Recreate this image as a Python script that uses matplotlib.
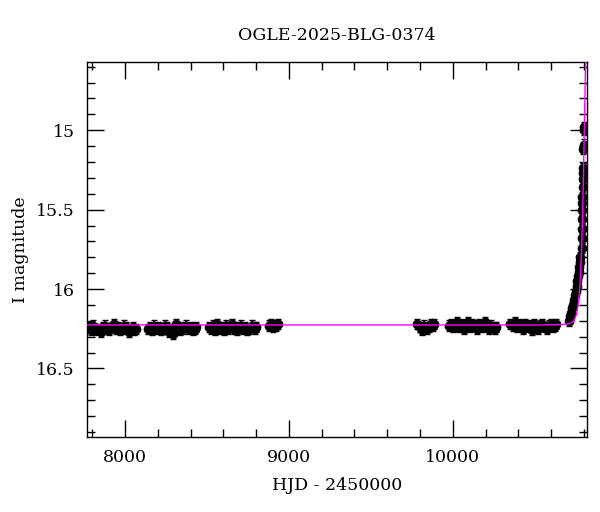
import matplotlib
matplotlib.use("Agg")
import matplotlib.pyplot as plt
from matplotlib.ticker import MultipleLocator, FuncFormatter

title = "OGLE-2025-BLG-0374"
xlabel = "HJD - 2450000"
ylabel = "I magnitude"

# Observing seasons (HJD-2450000, I mag)
s1_t = [7780, 7792, 7804, 7816, 7828, 7840, 7853, 7866, 7879, 7892, 7905, 7918,
        7931, 7944, 7957, 7970, 7983, 7996, 8009, 8022, 8035, 8047, 8058, 8066]
s1_m = [16.24, 16.26, 16.23, 16.26, 16.25, 16.25, 16.27, 16.24, 16.23, 16.25, 16.26, 16.24,
        16.22, 16.25, 16.24, 16.26, 16.25, 16.23, 16.24, 16.27, 16.25, 16.24, 16.26, 16.25]
s2_t = [8140, 8153, 8166, 8179, 8192, 8205, 8218, 8231, 8244, 8257, 8270, 8283,
        8296, 8309, 8322, 8335, 8348, 8361, 8374, 8387, 8400, 8413, 8425, 8434]
s2_m = [16.25, 16.24, 16.26, 16.23, 16.25, 16.24, 16.26, 16.25, 16.23, 16.24, 16.27, 16.25,
        16.28, 16.22, 16.24, 16.26, 16.25, 16.24, 16.23, 16.25, 16.24, 16.26, 16.25, 16.24]
s3_t = [8512, 8525, 8538, 8551, 8564, 8577, 8590, 8603, 8616, 8629, 8642, 8655,
        8668, 8681, 8694, 8707, 8720, 8733, 8746, 8759, 8772, 8785, 8796, 8802]
s3_m = [16.24, 16.25, 16.23, 16.26, 16.22, 16.25, 16.24, 16.26, 16.23, 16.25, 16.24, 16.22,
        16.25, 16.26, 16.24, 16.23, 16.25, 16.24, 16.26, 16.25, 16.23, 16.24, 16.25, 16.24]
s4_t = [8878, 8892, 8906, 8922, 8936]
s4_m = [16.23, 16.22, 16.24, 16.23, 16.22]
s5_t = [9784, 9798, 9812, 9826, 9840, 9854, 9868, 9880, 9888]
s5_m = [16.22, 16.24, 16.26, 16.23, 16.25, 16.24, 16.22, 16.23, 16.22]
s6_t = [9976, 9989, 10002, 10015, 10028, 10041, 10054, 10067, 10080, 10093, 10106, 10119,
        10132, 10145, 10158, 10171, 10184, 10197, 10210, 10223, 10236, 10249, 10260, 10266]
s6_m = [16.23, 16.22, 16.24, 16.23, 16.21, 16.24, 16.22, 16.25, 16.23, 16.21, 16.24, 16.22,
        16.23, 16.25, 16.22, 16.24, 16.23, 16.21, 16.24, 16.25, 16.23, 16.24, 16.25, 16.24]
s7_t = [10352, 10365, 10378, 10391, 10404, 10417, 10430, 10443, 10456, 10469, 10482, 10495,
        10508, 10521, 10534, 10547, 10560, 10573, 10586, 10599, 10612, 10624, 10632]
s7_m = [16.22, 16.23, 16.21, 16.24, 16.22, 16.23, 16.25, 16.22, 16.24, 16.23, 16.26, 16.22,
        16.24, 16.25, 16.23, 16.22, 16.24, 16.25, 16.23, 16.22, 16.24, 16.23, 16.22]
rise_t = [10712, 10718, 10724, 10730, 10736, 10741, 10746, 10751, 10756, 10760, 10764,
          10768, 10772, 10775, 10778]
rise_m = [16.20, 16.17, 16.15, 16.12, 16.10, 16.07, 16.04, 16.01, 15.98, 15.95, 15.92,
          15.89, 15.86, 15.83, 15.80]
peak_t = [10786, 10787, 10788, 10789, 10789.5, 10790, 10791, 10792, 10792.5, 10793,
          10794, 10797, 10798, 10801, 10802]
peak_m = [15.74, 15.68, 15.62, 15.56, 15.50, 15.46, 15.42, 15.36, 15.31, 15.27,
          15.24, 15.12, 15.09, 15.00, 14.98]
err = 0.032

# Model light curve
model_t = [7770, 10550, 10680, 10720, 10740, 10755, 10765, 10772, 10780, 10786,
           10792, 10797, 10802, 10806, 10810, 10815]
model_m = [16.226, 16.226, 16.223, 16.215, 16.20, 16.16, 16.10, 16.03, 15.90, 15.76,
           15.55, 15.32, 15.04, 14.82, 14.60, 14.30]

plt.rcParams['font.family'] = ['DejaVu Serif']
fig = plt.figure(figsize=(6.0, 5.12), dpi=100)
ax = fig.add_axes([0.1455, 0.147, 0.8333, 0.732])

t_all = s1_t + s2_t + s3_t + s4_t + s5_t + s6_t + s7_t + rise_t + peak_t
m_all = s1_m + s2_m + s3_m + s4_m + s5_m + s6_m + s7_m + rise_m + peak_m
ax.errorbar(t_all, m_all, yerr=err, fmt='o', ms=6, color='black', ecolor='black',
            elinewidth=1.5, capsize=2, capthick=1, zorder=2)
ax.plot(model_t, model_m, color='#ff00ff', lw=1.0, zorder=3)

ax.set_xlim(7770, 10821)
ax.set_ylim(16.93, 14.57)
ax.xaxis.set_major_locator(MultipleLocator(1000))
ax.xaxis.set_minor_locator(MultipleLocator(200))
ax.yaxis.set_major_locator(MultipleLocator(0.5))
ax.yaxis.set_minor_locator(MultipleLocator(0.1))
ax.yaxis.set_major_formatter(FuncFormatter(lambda v, p: '%g' % v))
ax.tick_params(which='both', direction='in', top=True, right=True, labelsize=12.5,
               width=1.0, colors='black')
ax.tick_params(which='major', length=12, pad=9)
ax.tick_params(which='minor', length=6)
for s in ax.spines.values():
    s.set_linewidth(1.0)

ax.set_xlabel(xlabel, fontsize=12.5, labelpad=8)
ax.set_ylabel(ylabel, fontsize=12.5, labelpad=5)
ax.set_title(title, fontsize=12.5, pad=16)

fig.savefig('out.png', dpi=100)
